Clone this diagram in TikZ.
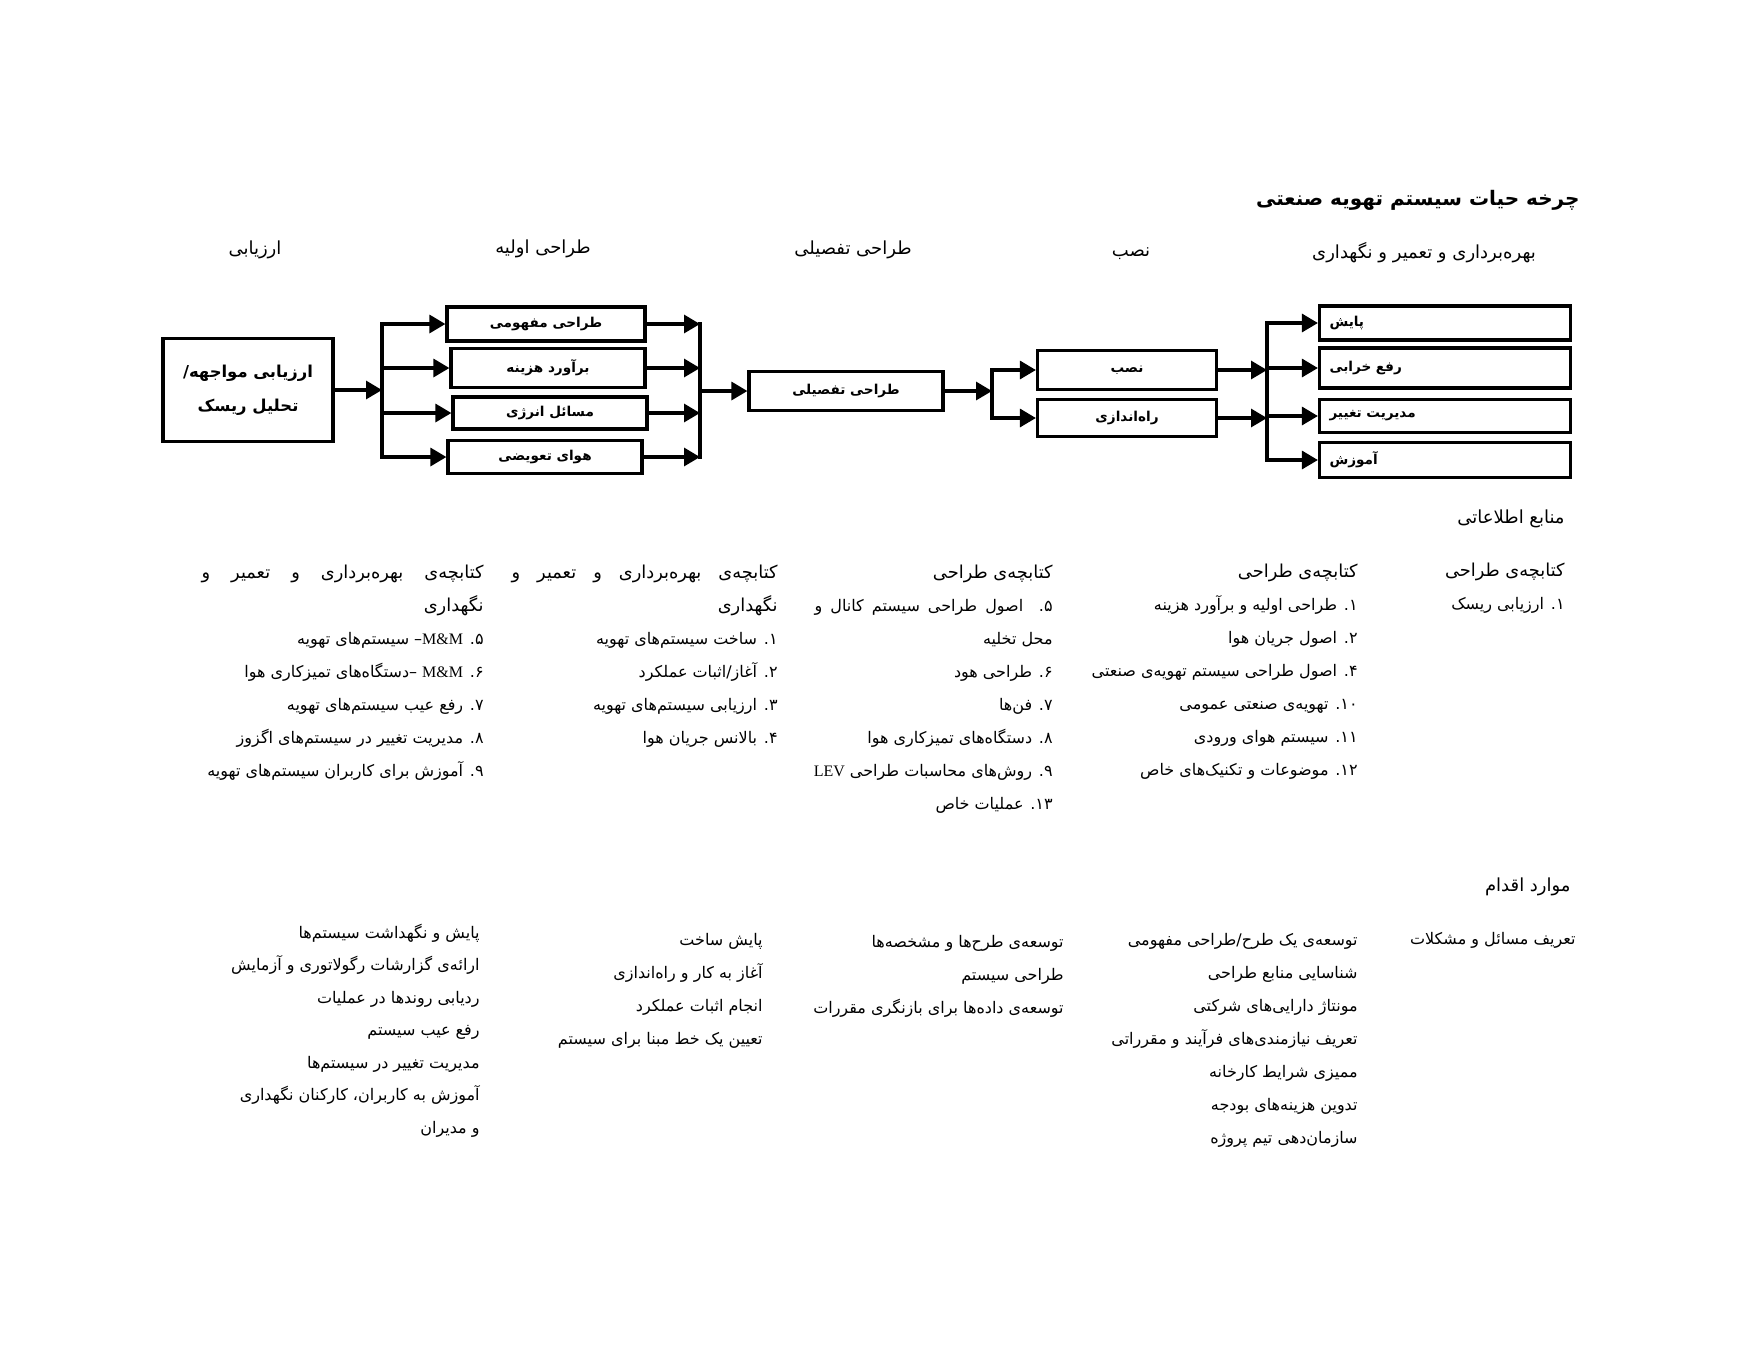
\documentclass[tikz,border=0pt]{standalone}
\usepackage{fontspec}
\setmainfont{DejaVu Sans}
\newfontfamily\arfont[Script=Arabic]{DejaVu Sans}
\newfontfamily\latfont{Liberation Serif}
\TeXXeTstate=1
\usetikzlibrary{arrows.meta}
\newcommand{\rl}[1]{\beginR #1\endR}
\newcommand{\nm}[1]{#1\kern0pt.}
\newcommand{\jl}[2]{\hbox to #1{#2}}
\newcommand{\ttl}[1]{{\fontsize{8.9}{16.5}\selectfont\beginR #1\endR}}

\begin{document}
\begin{tikzpicture}[x=0.5pt, y=-0.5pt,
    box/.style={draw, line width=1.6pt, inner sep=0pt, font=\arfont\bfseries\fontsize{6.8}{10}\selectfont},
    endbox/.style={box, inner xsep=5pt, text width=115.5pt, align=left},
    arr/.style={-{Triangle[length=8pt,width=9pt]}, line width=1.6pt},
    bar/.style={line width=1.6pt, line cap=rect},
    phase/.style={inner sep=0pt, font=\arfont\fontsize{9}{11}\selectfont},
    hd/.style={anchor=east, inner sep=0pt, font=\arfont\fontsize{9}{11}\selectfont},
    col/.style={anchor=base east, align=right, inner sep=0pt, font=\arfont\fontsize{8}{16.5}\selectfont}
]
\path[use as bounding box, fill=white] (0,0) rectangle (1738,1361);

% title and phases
\node[hd, font=\arfont\bfseries\fontsize{10}{12}\selectfont] (title) at (1580,200) {\rl{چرخه حیات سیستم تهویه صنعتی}};
\node[phase] (ph1) at (255,250) {\rl{ارزیابی}};
\node[phase] (ph2) at (543,249) {\rl{طراحی اولیه}};
\node[phase] (ph3) at (853,250) {\rl{طراحی تفصیلی}};
\node[phase] (ph4) at (1131,254) {\rl{نصب}};
\node[phase] (ph5) at (1424,253) {\rl{بهره‌برداری و تعمیر و نگهداری}};

% boxes
\node[box, minimum width=85pt, minimum height=51.5pt, align=center, font=\arfont\bfseries\fontsize{8.2}{17}\selectfont] (risk) at (248,390) {\rl{ارزیابی مواجهه\kern0pt/}\\\rl{تحلیل ریسک}};
\node[box, minimum width=99pt, minimum height=17pt] (cd) at (546,324) {\rl{طراحی مفهومی}};
\node[box, minimum width=97pt, minimum height=19.5pt] (ce) at (548,368) {\rl{برآورد هزینه}};
\node[box, minimum width=97pt, minimum height=16pt] (en) at (550,413) {\rl{مسائل انرژی}};
\node[box, minimum width=97pt, minimum height=16.5pt] (ma) at (545,457) {\rl{هوای تعویضی}};
\node[box, minimum width=97pt, minimum height=19.5pt] (dd) at (846,391) {\rl{طراحی تفصیلی}};
\node[box, minimum width=89.5pt, minimum height=19.5pt] (ins) at (1127,370) {\rl{نصب}};
\node[box, minimum width=89.5pt, minimum height=18.5pt] (com) at (1127,418) {\rl{راه‌اندازی}};
\node[endbox, minimum height=17pt] (mon) at (1445,323) {\rl{پایش}};
\node[endbox, minimum height=20pt] (trb) at (1445,368) {\rl{رفع خرابی}};
\node[endbox, minimum height=16.5pt] (moc) at (1445,416) {\rl{مدیریت تغییر}};
\node[endbox, minimum height=17.5pt] (trn) at (1445,460) {\rl{آموزش}};

% branch points
\coordinate (b1) at (382,390);
\coordinate (b2) at (700,390);
\coordinate (b3) at (992,391);
\coordinate (b4) at (1267,390);

\draw[arr] (risk.east) -- (b1);
\draw[bar] (b1 |- cd) -- (b1 |- ma);
\draw[arr] (b1 |- cd) -- (cd.west);
\draw[arr] (b1 |- ce) -- (ce.west);
\draw[arr] (b1 |- en) -- (en.west);
\draw[arr] (b1 |- ma) -- (ma.west);
\draw[arr] (cd.east) -- (b2 |- cd);
\draw[arr] (ce.east) -- (b2 |- ce);
\draw[arr] (en.east) -- (b2 |- en);
\draw[arr] (ma.east) -- (b2 |- ma);
\draw[bar] (b2 |- cd) -- (b2 |- ma);
\draw[arr] (b2 |- dd) -- (dd.west);
\draw[arr] (dd.east) -- (b3 |- dd);
\draw[bar] (b3 |- ins) -- (b3 |- com);
\draw[arr] (b3 |- ins) -- (ins.west);
\draw[arr] (b3 |- com) -- (com.west);
\draw[arr] (ins.east) -- (b4 |- ins);
\draw[arr] (com.east) -- (b4 |- com);
\draw[bar] (b4 |- mon) -- (b4 |- trn);
\draw[arr] (b4 |- mon) -- (mon.west);
\draw[arr] (b4 |- trb) -- (trb.west);
\draw[arr] (b4 |- moc) -- (moc.west);
\draw[arr] (b4 |- trn) -- (trn.west);

% information sources
\node[hd] (srchd) at (1565,519) {\rl{منابع اطلاعاتی}};
\node[col] (srcA) at (1565,609) {\ttl{کتابچه‌ی طراحی}\\\rl{\nm{۱} ارزیابی ریسک}};
\node[col] (srcB) at (1358,775) {\ttl{کتابچه‌ی طراحی}\\
  \rl{\nm{۱} طراحی اولیه و برآورد هزینه}\\
  \rl{\nm{۲} اصول جریان هوا}\\
  \rl{\nm{۴} اصول طراحی سیستم تهویه‌ی صنعتی}\\
  \rl{\nm{۱۰} تهویه‌ی صنعتی عمومی}\\
  \rl{\nm{۱۱} سیستم هوای ورودی}\\
  \rl{\nm{۱۲} موضوعات و تکنیک‌های خاص}};
\node[col] (srcC) at (1053,809) {\ttl{کتابچه‌ی طراحی}\\
  \jl{119pt}{\rl{\nm{۵} اصول طراحی سیستم کانال و}}\\
  \rl{محل تخلیه}\\
  \rl{\nm{۶} طراحی هود}\\
  \rl{\nm{۷} فن‌ها}\\
  \rl{\nm{۸} دستگاه‌های تمیزکاری هوا}\\
  \rl{\nm{۹} روش‌های محاسبات طراحی {\latfont LEV}}\\
  \rl{\nm{۱۳} عملیات خاص}};
\node[col] (srcD) at (778,743) {{\fontsize{8.9}{16.5}\selectfont\jl{133pt}{\rl{کتابچه‌ی بهره‌برداری و تعمیر و}}}\\
  \ttl{نگهداری}\\
  \rl{\nm{۱} ساخت سیستم‌های تهویه}\\
  \rl{\nm{۲} آغاز/اثبات عملکرد}\\
  \rl{\nm{۳} ارزیابی سیستم‌های تهویه}\\
  \rl{\nm{۴} بالانس جریان هوا}};
\node[col] (srcE) at (484,776) {{\fontsize{8.9}{16.5}\selectfont\jl{141pt}{\rl{کتابچه‌ی بهره‌برداری و تعمیر و}}}\\
  \ttl{نگهداری}\\
  \rl{\nm{۵} {\latfont M\&M}\kern0pt– سیستم‌های تهویه}\\
  \rl{\nm{۶} {\latfont M\&M} –\kern0pt دستگاه‌های تمیزکاری هوا}\\
  \rl{\nm{۷} رفع عیب سیستم‌های تهویه}\\
  \rl{\nm{۸} مدیریت تغییر در سیستم‌های اگزوز}\\
  \rl{\nm{۹} آموزش برای کاربران سیستم‌های تهویه}};

% action items
\node[hd] (acthd) at (1571,887) {\rl{موارد اقدام}};
\node[col] (actA) at (1576,944) {\rl{تعریف مسائل و مشکلات}};
\node[col] (actB) at (1358,1143) {\rl{توسعه‌ی یک طرح/طراحی مفهومی}\\
  \rl{شناسایی منابع طراحی}\\
  \rl{مونتاژ دارایی‌های شرکتی}\\
  \rl{تعریف نیازمندی‌های فرآیند و مقرراتی}\\
  \rl{ممیزی شرایط کارخانه}\\
  \rl{تدوین هزینه‌های بودجه}\\
  \rl{سازمان‌دهی تیم پروژه}};
\node[col] (actC) at (1064,1013) {\rl{توسعه‌ی طرح‌ها و مشخصه‌ها}\\
  \rl{طراحی سیستم}\\
  \rl{توسعه‌ی داده‌ها برای بازنگری مقررات}};
\node[col] (actD) at (763,1044) {\rl{پایش ساخت}\\
  \rl{آغاز به کار و راه‌اندازی}\\
  \rl{انجام اثبات عملکرد}\\
  \rl{تعیین یک خط مبنا برای سیستم}};
\node[col, font=\arfont\fontsize{8}{16.25}\selectfont] (actE) at (480,1133) {\rl{پایش و نگهداشت سیستم‌ها}\\
  \rl{ارائه‌ی گزارشات رگولاتوری و آزمایش}\\
  \rl{ردیابی روندها در عملیات}\\
  \rl{رفع عیب سیستم}\\
  \rl{مدیریت تغییر در سیستم‌ها}\\
  \rl{آموزش به کاربران\kern0pt، کارکنان نگهداری}\\
  \rl{و مدیران}};
\end{tikzpicture}
\end{document}
